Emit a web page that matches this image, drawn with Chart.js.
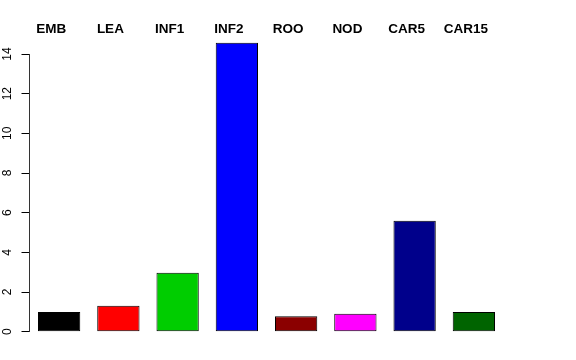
<!DOCTYPE html>
<html>
<head>
<meta charset="utf-8">
<script src="https://cdn.jsdelivr.net/npm/chart.js@4"></script>
<style>
  html, body { margin: 0; padding: 0; background: #ffffff; }
  #c { display: block; }
</style>
</head>
<body>
<canvas id="c" width="576" height="360"></canvas>
<script>
// ---- data ----
const categories = ["EMB", "LEA", "INF1", "INF2", "ROO", "NOD", "CAR5", "CAR15"];
const values = [0.99, 1.31, 2.97, 14.57, 0.78, 0.91, 5.59, 0.99];
const barColors = ["#000000", "#FF0000", "#00CD00", "#0000FF", "#8B0000", "#FF00FF", "#00008B", "#006400"];
const yTicks = [0, 2, 4, 6, 8, 10, 12, 14];

const yLabelPlugin = {
  id: 'yLabels',
  afterDraw(chart) {
    const ys = chart.scales.y;
    const ctx = chart.ctx;
    ctx.save();
    ctx.fillStyle = '#000000';
    ctx.font = '12px "Liberation Sans", Arial, sans-serif';
    ctx.textAlign = 'center';
    ctx.textBaseline = 'middle';
    yTicks.forEach(v => {
      const py = ys.getPixelForValue(v);
      ctx.save();
      ctx.translate(8, py);
      ctx.rotate(-Math.PI / 2);
      ctx.fillText(String(v), 0, 0);
      ctx.restore();
    });
    ctx.restore();
  }
};

new Chart(document.getElementById('c'), {
  type: 'bar',
  data: {
    labels: categories,
    datasets: [{
      data: values,
      backgroundColor: barColors,
      borderColor: '#000000',
      borderWidth: 1,
      borderSkipped: false,
      categoryPercentage: 1,
      barPercentage: 0.714,
      clip: false
    }]
  },
  options: {
    responsive: false,
    animation: false,
    layout: { padding: { left: 0, top: 0, right: 72.5, bottom: 28.3 } },
    plugins: { legend: { display: false }, tooltip: { enabled: false } },
    scales: {
      x: {
        position: 'top',
        offset: true,
        grid: { display: false, drawTicks: false },
        border: { display: false },
        ticks: {
          color: '#000000',
          font: { family: '"Liberation Sans", Arial, sans-serif', size: 13.5, weight: 'bold' },
          padding: 17,
          labelOffset: -8,
          maxRotation: 0,
          autoSkip: false
        },
        afterFit(scale) { scale.height = 54; }
      },
      y: {
        min: 0,
        max: 14,
        afterBuildTicks(scale) { scale.ticks = yTicks.map(v => ({ value: v })); },
        grid: {
          display: true,
          drawOnChartArea: false,
          drawTicks: true,
          tickLength: 8,
          color: '#000000'
        },
        border: { display: true, color: '#333333', width: 1 },
        ticks: { display: false },
        afterFit(scale) { scale.width = 29.5; }
      }
    }
  },
  plugins: [yLabelPlugin]
});
</script>
</body>
</html>
